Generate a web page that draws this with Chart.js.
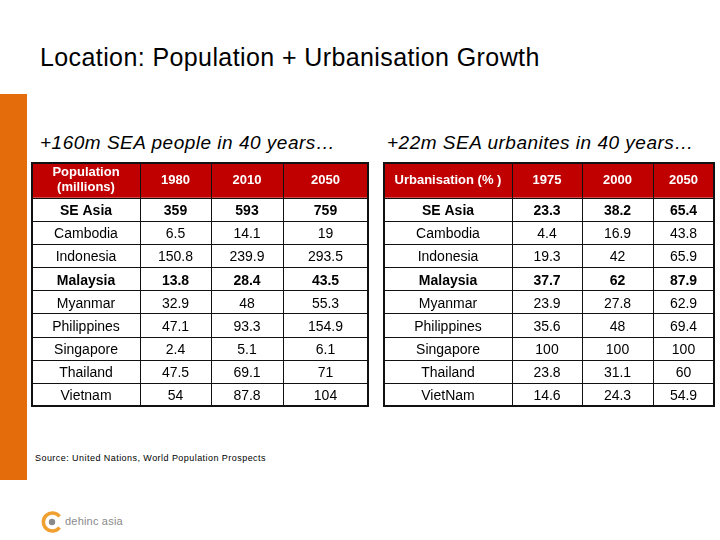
<!DOCTYPE html>
<html>
<head>
<meta charset="utf-8">
<script src="https://cdn.jsdelivr.net/npm/chart.js@4.4.1/dist/chart.umd.min.js"></script>
<style>
  html, body { margin:0; padding:0; background:#fff; }
  #page { position:relative; width:720px; height:540px; overflow:hidden; font-family:"Liberation Sans", Arial, sans-serif; }
  .abs { position:absolute; white-space:nowrap; }
  #title { left:40px; top:43px; font-size:25px; letter-spacing:0.4px; color:#000; }
  #bar { left:0; top:94px; width:27px; height:386px; background:#E46C0A; }
  .sub { top:132px; font-size:19px; font-style:italic; color:#000; letter-spacing:0.5px; }
  #subL { left:40px; }
  #subR { left:387px; }
  #source { left:35px; top:453px; font-size:9px; letter-spacing:0.45px; color:#000; }
  #logoText { left:65px; top:515px; font-size:11px; color:#8a8a8a; letter-spacing:0.2px; }
  canvas { position:absolute; }
</style>
</head>
<body>
<div id="page">
  <div id="title" class="abs">Location: Population + Urbanisation Growth</div>
  <div id="bar" class="abs"></div>
  <div id="subL" class="abs sub">+160m SEA people in 40 years…</div>
  <div id="subR" class="abs sub">+22m SEA urbanites in 40 years…</div>
  <canvas id="popChart" width="340" height="247" style="left:30px;top:161px;"></canvas>
  <canvas id="urbChart" width="334" height="247" style="left:382px;top:161px;"></canvas>
  <div id="source" class="abs">Source: United Nations, World Population Prospects</div>
  <svg class="abs" style="left:40px;top:510px;" width="24" height="24" viewBox="0 0 24 24">
    <path d="M19.5 6.5 A9 9 0 1 0 19.5 17.5" fill="none" stroke="#F0A030" stroke-width="3.5"/>
    <circle cx="12" cy="12" r="3.2" fill="#8a8a8a"/>
  </svg>
  <div id="logoText" class="abs">dehinc asia</div>
</div>
<script>
// ---- Data ----
const popHeader = ['Population\n(millions)', '1980', '2010', '2050'];
const popCountries = ['SE Asia', 'Cambodia', 'Indonesia', 'Malaysia', 'Myanmar', 'Philippines', 'Singapore', 'Thailand', 'Vietnam'];
const pop1980 = ['359', '6.5', '150.8', '13.8', '32.9', '47.1', '2.4', '47.5', '54'];
const pop2010 = ['593', '14.1', '239.9', '28.4', '48', '93.3', '5.1', '69.1', '87.8'];
const pop2050 = ['759', '19', '293.5', '43.5', '55.3', '154.9', '6.1', '71', '104'];

const urbHeader = ['Urbanisation (% )', '1975', '2000', '2050'];
const urbCountries = ['SE Asia', 'Cambodia', 'Indonesia', 'Malaysia', 'Myanmar', 'Philippines', 'Singapore', 'Thailand', 'VietNam'];
const urb1975 = ['23.3', '4.4', '19.3', '37.7', '23.9', '35.6', '100', '23.8', '14.6'];
const urb2000 = ['38.2', '16.9', '42', '62', '27.8', '48', '100', '31.1', '24.3'];
const urb2050 = ['65.4', '43.8', '65.9', '87.9', '62.9', '69.4', '100', '60', '54.9'];

const boldRows = ['SE Asia', 'Malaysia'];

// ---- Layout (column widths / header height in scale units) ----
const popColWidths = [108, 71, 72, 85];
const urbColWidths = [128, 70, 71, 61];
const headerUnits = 1.5;

const FONT = '"Liberation Sans", Arial, sans-serif';

const tablePlugin = {
  id: 'tableCells',
  afterDraw(chart, args, opts) {
    const ctx = chart.ctx;
    const xs = chart.scales.x, ys = chart.scales.y;
    const edges = [0];
    opts.colWidths.forEach(w => edges.push(edges[edges.length - 1] + w));
    const nRows = opts.rows.length;
    const X = v => xs.getPixelForValue(v);
    const Y = v => ys.getPixelForValue(v);
    const left = X(0), right = X(edges[edges.length - 1]);
    const top = Y(0), hBot = Y(headerUnits), bottom = Y(headerUnits + nRows);

    ctx.save();
    ctx.fillStyle = '#C00000';
    ctx.fillRect(left, top, right - left, hBot - top);

    ctx.strokeStyle = '#111';
    ctx.lineWidth = 1;
    ctx.beginPath();
    for (let i = 1; i < edges.length - 1; i++) {
      const px = Math.round(X(edges[i])) + 0.5;
      ctx.moveTo(px, top); ctx.lineTo(px, bottom);
    }
    for (let r = 0; r < nRows; r++) {
      const py = Math.round(Y(headerUnits + r)) + 0.5;
      ctx.moveTo(left, py); ctx.lineTo(right, py);
    }
    ctx.stroke();
    ctx.lineWidth = 2;
    ctx.strokeRect(left, top, right - left, bottom - top);

    ctx.textAlign = 'center';
    ctx.textBaseline = 'middle';
    ctx.fillStyle = '#fff';
    ctx.font = 'bold 13px ' + FONT;
    opts.header.forEach((txt, c) => {
      const cx = (X(edges[c]) + X(edges[c + 1])) / 2;
      const cy = (top + hBot) / 2;
      const lines = txt.split('\n');
      lines.forEach((ln, k) => {
        ctx.fillText(ln, cx, cy + (k - (lines.length - 1) / 2) * 15);
      });
    });

    ctx.fillStyle = '#000';
    opts.rows.forEach((name, r) => {
      const bold = boldRows.includes(name);
      ctx.font = (bold ? 'bold ' : '') + '14px ' + FONT;
      const cy = (Y(headerUnits + r) + Y(headerUnits + r + 1)) / 2 + 2;
      const cells = [name].concat(opts.columns.map(col => col[r]));
      cells.forEach((txt, c) => {
        const cx = (X(edges[c]) + X(edges[c + 1])) / 2;
        ctx.fillText(txt, cx, cy);
      });
    });
    ctx.restore();
  }
};

function makeTable(id, header, rows, columns, colWidths) {
  const total = colWidths.reduce((a, b) => a + b, 0);
  return new Chart(document.getElementById(id), {
    type: 'scatter',
    data: { datasets: [] },
    options: {
      responsive: false,
      animation: false,
      layout: { padding: 2 },
      plugins: {
        legend: { display: false },
        tooltip: { enabled: false },
        tableCells: { header, rows, columns, colWidths }
      },
      scales: {
        x: { type: 'linear', display: false, min: 0, max: total },
        y: { type: 'linear', display: false, reverse: true, min: 0, max: headerUnits + rows.length }
      }
    },
    plugins: [tablePlugin]
  });
}

makeTable('popChart', popHeader, popCountries, [pop1980, pop2010, pop2050], popColWidths);
makeTable('urbChart', urbHeader, urbCountries, [urb1975, urb2000, urb2050], urbColWidths);
</script>
</body>
</html>
